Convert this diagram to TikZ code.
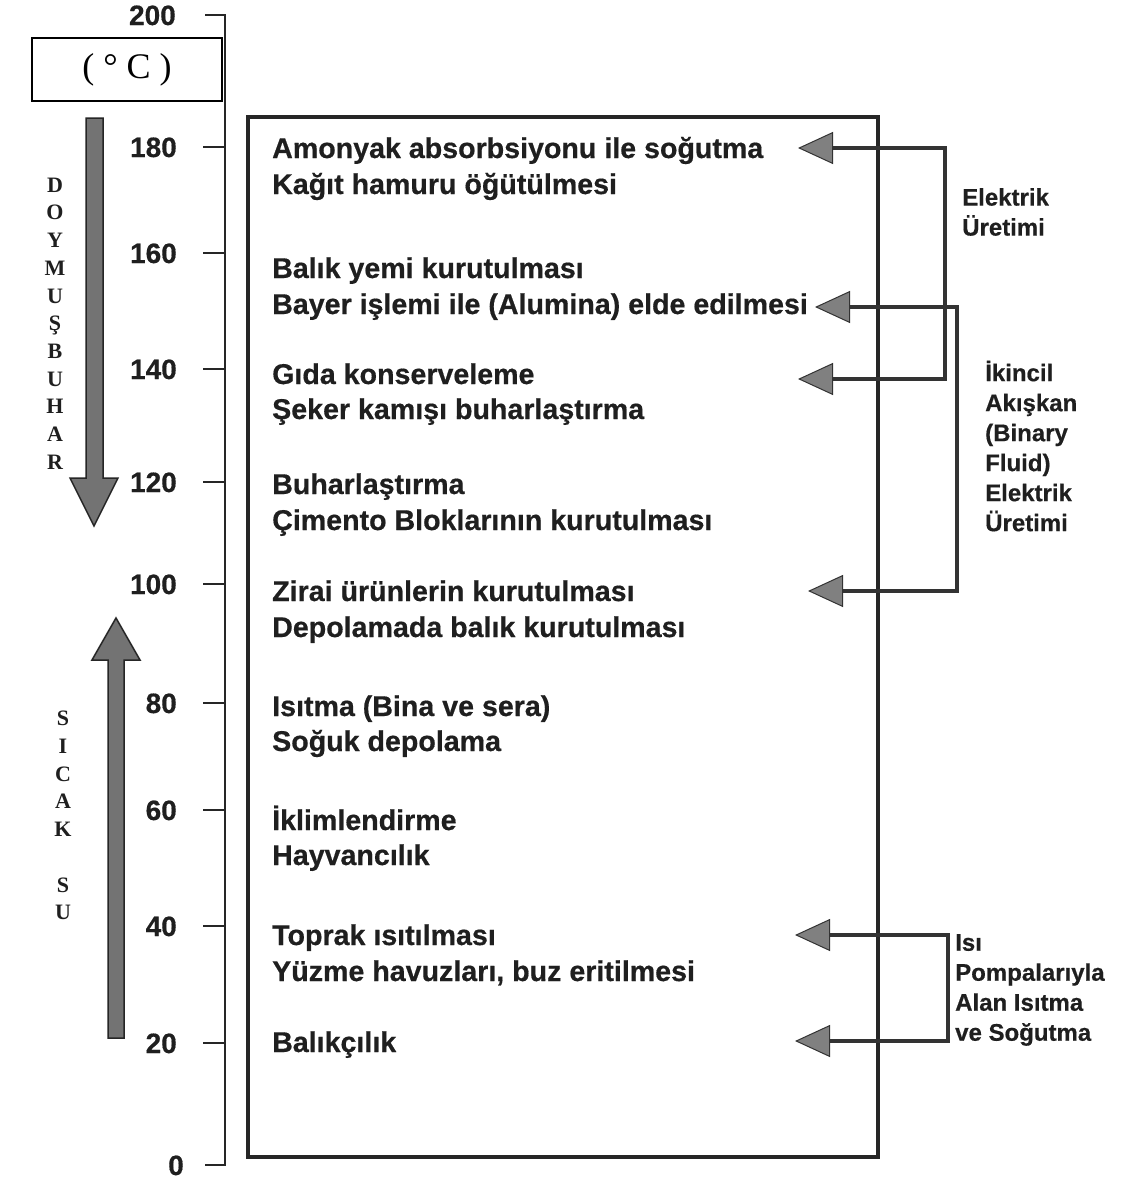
\documentclass[tikz,border=0pt]{standalone}
\usepackage{fontspec}
\setmainfont{Liberation Sans}[BoldFeatures={FakeBold=0.5}]
\newfontfamily\seriffam{Liberation Serif}
\usetikzlibrary{arrows.meta}
\tikzset{
  item/.style={anchor=west, inner sep=0pt, text height=20pt, text depth=0pt,
    font=\fontsize{28.6}{34}\selectfont\bfseries, text=black!88},
  tickmark/.style={line width=1.6pt, draw=black!85},
  ticklbl/.style={anchor=east, inner sep=0pt, text height=20pt, text depth=0pt,
    font=\fontsize{28}{30}\selectfont\bfseries, text=black!88},
  side/.style={anchor=west, align=left, inner sep=0pt,
    font=\fontsize{24}{30}\selectfont\bfseries, text=black!88},
  conn/.style={line width=4.8pt, draw=black!80, {Triangle[length=35pt,width=32pt,fill=black!50,line width=1pt]}-{Triangle[length=35pt,width=32pt,fill=black!50,line width=1pt]}},
  bigarrow/.style={fill=black!55, draw=black!85, line width=1.5pt, line join=miter},
  vlet/.style={align=center, inner sep=0pt, text=black!88,
    font=\seriffam\fontsize{22}{27.7}\selectfont\bfseries}
}
\begin{document}
\begin{tikzpicture}[x=1pt,y=-1pt]
\useasboundingbox (0,0) rectangle (1123,1186);
\fill[white] (0,0) rectangle (1123,1186);

% unit box
\node[draw, line width=1.8pt, minimum width=190pt, minimum height=63pt, inner sep=0pt,
  font=\seriffam\fontsize{36}{36}\selectfont] (unit) at (127,69.5) {( ° C )};

% axis
\draw[line width=1.8pt, draw=black!85] (205,15) -- (225,15) -- (225,1165) -- (205,1165);
\node[ticklbl] (l200) at (176,15) {200};
\node[ticklbl] (l0) at (184,1165) {0};
\foreach \v/\yy in {180/147,160/253,140/369,120/482,100/584,80/703,60/810,40/926,20/1043}{
  \draw[tickmark] (203,\yy) -- (225,\yy);
  \node[ticklbl] (l\v) at (177,\yy) {\v};
}

% big arrows
\draw[bigarrow] (86,118) -- (103,118) -- (103,478) -- (118,478) -- (94,526)
  -- (70,478) -- (86,478) -- cycle;
\draw[bigarrow] (108,1038) -- (124,1038) -- (124,660) -- (140,660) -- (116,618)
  -- (92,660) -- (108,660) -- cycle;

% vertical letters
\node[vlet] (doymus) at (55,323.5) {D\\O\\Y\\M\\U\\Ş\\B\\U\\H\\A\\R};
\node[vlet] (sicak) at (63,815.5) {S\\I\\C\\A\\K\\[27.9pt]S\\U};

% main box
\draw[line width=3.5pt, draw=black!85] (248,117) rectangle (878,1157);

% items
\node[item] (t1) at (272,148) {Amonyak absorbsiyonu ile soğutma};
\node[item] (t2) at (272,184) {Kağıt hamuru öğütülmesi};
\node[item] (t3) at (272,268) {Balık yemi kurutulması};
\node[item] (t4) at (272,304) {Bayer işlemi ile (Alumina) elde edilmesi};
\node[item] (t5) at (272,374) {Gıda konserveleme};
\node[item] (t6) at (272,409) {Şeker kamışı buharlaştırma};
\node[item] (t7) at (272,484) {Buharlaştırma};
\node[item] (t8) at (272,520) {Çimento Bloklarının kurutulması};
\node[item] (t9) at (272,591) {Zirai ürünlerin kurutulması};
\node[item] (t10) at (272,627) {Depolamada balık kurutulması};
\node[item] (t11) at (272,706) {Isıtma (Bina ve sera)};
\node[item] (t12) at (272,741) {Soğuk depolama};
\node[item] (t13) at (272,820) {İklimlendirme};
\node[item] (t14) at (272,855) {Hayvancılık};
\node[item] (t15) at (272,935) {Toprak ısıtılması};
\node[item] (t16) at (272,971) {Yüzme havuzları, buz eritilmesi};
\node[item] (t17) at (272,1042) {Balıkçılık};

% connectors
\coordinate (ea) at (798,148);
\coordinate (eb) at (798,379);
\coordinate (ex) at (945,0);
\coordinate (ba) at (815,307);
\coordinate (bb) at (808,591);
\coordinate (bx) at (957,0);
\coordinate (ia) at (795,935);
\coordinate (ib) at (795,1041);
\coordinate (ix) at (948,0);
\draw[conn] (ea) -- (ea -| ex) -- (eb -| ex) -- (eb);
\draw[conn] (ba) -- (ba -| bx) -- (bb -| bx) -- (bb);
\draw[conn] (ia) -- (ia -| ix) -- (ib -| ix) -- (ib);

% side labels
\node[side] (elek) at (962,212) {Elektrik\\Üretimi};
\node[side] (ikin) at (985,446) {İkincil\\Akışkan\\(Binary\\Fluid)\\Elektrik\\Üretimi};
\node[side] (isi) at (955,990) {Isı\\Pompalarıyla\\Alan Isıtma\\ve Soğutma};
\end{tikzpicture}
\end{document}
